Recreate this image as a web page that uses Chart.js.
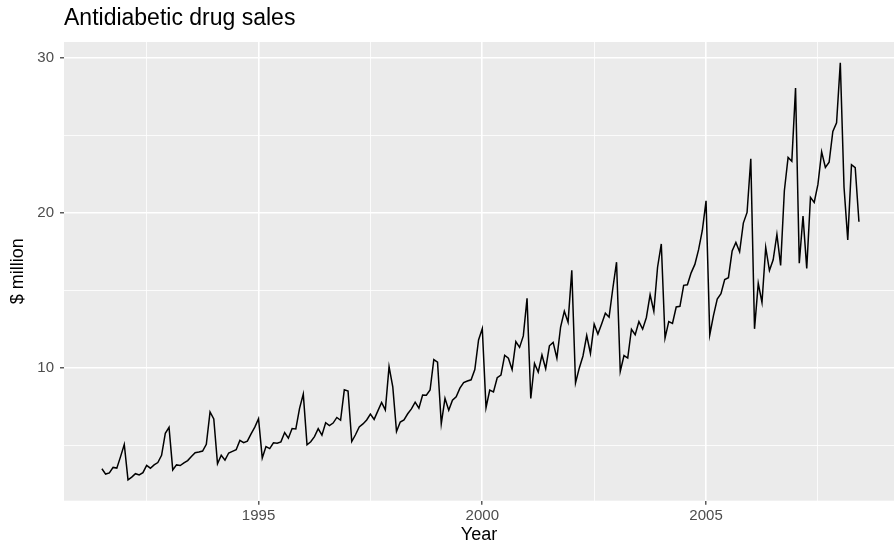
<!DOCTYPE html>
<html>
<head>
<meta charset="utf-8">
<script src="https://cdn.jsdelivr.net/npm/chart.js@4/dist/chart.umd.min.js"></script>
<style>
    html, body { margin: 0; padding: 0; background: #ffffff; }
    #chart { display: block; }
</style>
</head>
<body>
<canvas id="chart" width="894" height="547"></canvas>
<script>

// a10: monthly antidiabetic drug sales, Jul 1991 - Jun 2008 ($ million)
const startYear = 1991.5;

const sales = [
    3.526591, 3.180891, 3.252221, 3.611003, 3.565869, 4.306371,
    5.088335, 2.814520, 2.985811, 3.204780, 3.127578, 3.270523, 3.737851, 3.558776, 3.777202, 3.924490, 4.386531, 5.810549,
    6.192068, 3.450857, 3.772307, 3.734303, 3.905399, 4.049687, 4.315566, 4.562185, 4.608662, 4.667851, 5.093841, 7.179962,
    6.731473, 3.841278, 4.394076, 4.075341, 4.540645, 4.645615, 4.752607, 5.350605, 5.204455, 5.301651, 5.773742, 6.204593,
    6.749484, 4.216067, 4.949349, 4.823045, 5.194754, 5.170787, 5.256742, 5.855277, 5.490729, 6.115293, 6.088473, 7.416598,
    8.329452, 5.069796, 5.262557, 5.597126, 6.110296, 5.689161, 6.486849, 6.300569, 6.467950, 6.828235, 6.649296, 8.606448,
    8.524471, 5.277918, 5.714303, 6.214529, 6.411545, 6.667590, 7.050890, 6.704484, 7.250795, 7.793368, 7.311954, 10.096867,
    8.798329, 5.918471, 6.534052, 6.675433, 7.064089, 7.383116, 7.813473, 7.431729, 8.275183, 8.260446, 8.596520, 10.558558,
    10.391122, 6.421024, 8.062890, 7.297878, 7.936507, 8.165327, 8.717872, 9.070130, 9.177750, 9.251162, 9.915005, 11.821590,
    12.552080, 7.457017, 8.591017, 8.474000, 9.386937, 9.560574, 10.834400, 10.643764, 9.908048, 11.710041, 11.340712, 12.079043,
    14.497581, 8.049275, 10.312891, 9.753358, 10.850382, 9.961719, 11.443601, 11.659239, 10.647060, 12.652134, 13.674466, 12.965735,
    16.300269, 9.053485, 10.002449, 10.788750, 12.106705, 10.954101, 12.844566, 12.196500, 12.854748, 13.542004, 13.287640, 15.134918,
    16.828350, 9.800215, 10.816994, 10.654223, 12.512323, 12.161210, 12.998046, 12.517276, 13.268658, 14.733622, 13.669382, 16.503966,
    18.003768, 11.938030, 12.997900, 12.882645, 13.943447, 13.989472, 15.339097, 15.370764, 16.142005, 16.685754, 17.636728, 18.869325,
    20.778723, 12.154552, 13.402392, 14.459239, 14.795102, 15.705248, 15.829550, 17.554701, 18.100864, 17.496668, 19.347265, 20.031291,
    23.486694, 12.536987, 15.467018, 14.233539, 17.783058, 16.291602, 16.980282, 18.612189, 16.623343, 21.430241, 23.575517, 23.334206,
    28.038383, 16.763869, 19.792754, 16.427305, 21.000742, 20.681002, 21.834890, 23.930204, 22.930357, 23.263340, 25.250030, 25.806090,
    29.665356, 21.654285, 18.264945, 23.107677, 22.912510, 19.431740
];

const xMajorTicks = [1995, 2000, 2005];
const xMinorTicks = [1992.5, 1997.5, 2002.5, 2007.5];
const yMajorTicks = [10, 20, 30];
const yMinorTicks = [5, 15, 25];

const titleText = "Antidiabetic drug sales";
const xTitle = "Year";
const yTitle = "$ million";

const points = sales.map((v, i) => ({ x: startYear + i / 12, y: v }));

const FONT = "'Liberation Sans', Arial, Helvetica, sans-serif";

const panelBackground = {
    id: "panelBackground",
    beforeDraw(chart) {
        const { ctx, chartArea } = chart;
        ctx.save();
        ctx.fillStyle = "#EBEBEB";
        ctx.fillRect(chartArea.left, chartArea.top,
            chartArea.right - chartArea.left, chartArea.bottom - chartArea.top);
        ctx.restore();
    },
    afterDraw(chart) {
        const { ctx } = chart;
        ctx.save();
        ctx.fillStyle = "#000000";
        ctx.font = "23px " + FONT;
        ctx.textBaseline = "alphabetic";
        ctx.textAlign = "left";
        ctx.fillText(titleText, chart.chartArea.left, 25);
        ctx.restore();
    }
};

function buildTicks(major, minor) {
    return (scale) => {
        scale.ticks = major.concat(minor)
            .sort((a, b) => a - b)
            .map(v => ({ value: v }));
    };
}

function isMajor(list, v) {
    return list.indexOf(v) !== -1;
}

new Chart(document.getElementById("chart"), {
    type: "line",
    data: {
        datasets: [{
            data: points,
            borderColor: "#000000",
            borderWidth: 1.5,
            pointRadius: 0,
            tension: 0,
            fill: false,
        }]
    },
    plugins: [panelBackground],
    options: {
        responsive: false,
        animation: false,
        devicePixelRatio: 1,
        layout: {
            padding: { top: 42, left: 0, right: 0, bottom: 0 }
        },
        plugins: {
            legend: { display: false },
            tooltip: { enabled: false },
        },
        scales: {
            x: {
                type: "linear",
                min: 1990.653,
                max: 2009.2,
                afterBuildTicks: buildTicks(xMajorTicks, xMinorTicks),
                afterFit: (scale) => { scale.height = 46.3; },
                border: { display: false },
                grid: {
                    color: "#FFFFFF",
                    lineWidth: (c) => isMajor(xMajorTicks, c.tick.value) ? 1.6 : 0.8,
                    drawTicks: true,
                    tickLength: 4,
                    tickWidth: 1.2,
                    tickColor: (c) => isMajor(xMajorTicks, c.tick.value) ? "#333333" : "rgba(0,0,0,0)",
                },
                ticks: {
                    autoSkip: false,
                    maxRotation: 0,
                    padding: 2,
                    color: "#4D4D4D",
                    font: { family: FONT, size: 15 },
                    callback: (v) => isMajor(xMajorTicks, v) ? String(v) : "",
                },
                title: {
                    display: true,
                    text: xTitle,
                    color: "#000000",
                    font: { family: FONT, size: 18 },
                    padding: { top: 0, bottom: 1 },
                },
            },
            y: {
                type: "linear",
                min: 1.467,
                max: 31.01,
                afterBuildTicks: buildTicks(yMajorTicks, yMinorTicks),
                afterFit: (scale) => { scale.width = 64; },
                border: { display: false },
                grid: {
                    color: "#FFFFFF",
                    lineWidth: (c) => isMajor(yMajorTicks, c.tick.value) ? 1.6 : 0.8,
                    drawTicks: true,
                    tickLength: 4,
                    tickWidth: 1.2,
                    tickColor: (c) => isMajor(yMajorTicks, c.tick.value) ? "#333333" : "rgba(0,0,0,0)",
                },
                ticks: {
                    autoSkip: false,
                    padding: 6,
                    color: "#4D4D4D",
                    font: { family: FONT, size: 15 },
                    callback: (v) => isMajor(yMajorTicks, v) ? String(v) : "",
                },
                title: {
                    display: true,
                    text: yTitle,
                    color: "#000000",
                    font: { family: FONT, size: 18 },
                    padding: { top: 7, bottom: 0 },
                },
            }
        }
    }
});
</script>
</body>
</html>
